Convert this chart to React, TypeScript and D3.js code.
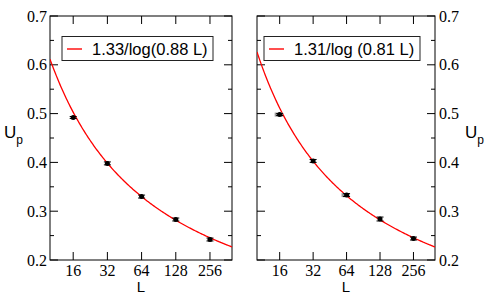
import React from "react";
import * as d3 from "d3";

// system sizes L and measured U_p
const sizes = [16, 32, 64, 128, 256];
const leftValues = [0.492, 0.398, 0.33, 0.283, 0.242];
const leftErrors = [0.002, 0.003, 0.003, 0.003, 0.003];
const rightValues = [0.498, 0.403, 0.333, 0.284, 0.244];
const rightErrors = [0.002, 0.003, 0.003, 0.004, 0.003];
// grey markers hiding under some right points
const rightGreySizes = [16, 64];
const rightGreyValues = [0.498, 0.333];

// fit parameters: a / log(b L)
const leftFit = [1.33, 0.88];
const rightFit = [1.31, 0.81];
const leftLegend = "1.33/log(0.88 L)";
const rightLegend = "1.31/log (0.81 L)";

const yTicks = [0.2, 0.3, 0.4, 0.5, 0.6, 0.7];
const yMinor = [0.25, 0.35, 0.45, 0.55, 0.65];

const W = 490;
const H = 300;
const top = 16;
const bottom = 260;
const serif = { fontFamily: "'Liberation Serif', 'Times New Roman', serif" };
const sans = { fontFamily: "'Liberation Sans', Arial, Helvetica, sans-serif" };

function Panel({ x0, x1, values, errors, fit, legend, side, greyL, greyU, id }) {
  const x = d3.scaleLog().domain([10, 400]).range([x0, x1]);
  const y = d3.scaleLinear().domain([0.2, 0.7]).range([bottom, top]);
  const curveL = d3.range(0, 201).map((i) => 10 * Math.pow(40, i / 200));
  const line = d3
    .line()
    .x((d) => x(d))
    .y((d) => y(fit[0] / Math.log(fit[1] * d)));
  const mid = (x0 + x1) / 2;
  const lx = side === "left" ? x0 + 12 : x0 + 7;
  const lw = side === "left" ? 151 : 156;

  return (
    <g>
      <defs>
        <clipPath id={id}>
          <rect x={x0} y={top} width={x1 - x0} height={bottom - top} />
        </clipPath>
      </defs>
      {/* frame */}
      <rect x={x0} y={top} width={x1 - x0} height={bottom - top} fill="none" stroke="#000" strokeWidth={1} />
      {yTicks.map((t) => (
        <g key={"y" + t}>
          <line x1={x0} x2={x0 + 8} y1={y(t)} y2={y(t)} stroke="#000" />
          <line x1={x1 - 8} x2={x1} y1={y(t)} y2={y(t)} stroke="#000" />
          <text
            x={side === "left" ? x0 - 3 : x1 + 4}
            y={y(t)}
            dy="0.35em"
            textAnchor={side === "left" ? "end" : "start"}
            fontSize={16}
            style={serif}
          >
            {t.toFixed(1)}
          </text>
        </g>
      ))}
      {yMinor.map((t) => (
        <g key={"m" + t}>
          <line x1={x0} x2={x0 + 4} y1={y(t)} y2={y(t)} stroke="#000" />
          <line x1={x1 - 4} x2={x1} y1={y(t)} y2={y(t)} stroke="#000" />
        </g>
      ))}
      {sizes.map((s) => (
        <g key={"x" + s}>
          <line x1={x(s)} x2={x(s)} y1={bottom} y2={bottom - 8} stroke="#000" />
          <line x1={x(s)} x2={x(s)} y1={top} y2={top + 8} stroke="#000" />
          <text x={x(s)} y={276} textAnchor="middle" fontSize={16} style={serif}>
            {s}
          </text>
        </g>
      ))}
      {/* fit */}
      <path d={line(curveL)} fill="none" stroke="#ff0000" strokeWidth={1.3} clipPath={`url(#${id})`} />
      {/* grey markers */}
      {greyL.map((s, i) => (
        <rect key={"g" + s} x={x(s) - 5} y={y(greyU[i]) - 2} width={8} height={4} fill="#999" />
      ))}
      {/* data */}
      {sizes.map((s, i) => (
        <g key={"p" + s}>
          <line x1={x(s)} x2={x(s)} y1={y(values[i] - errors[i])} y2={y(values[i] + errors[i])} stroke="#000" />
          <line x1={x(s) - 3.5} x2={x(s) + 3.5} y1={y(values[i] - errors[i])} y2={y(values[i] - errors[i])} stroke="#000" />
          <line x1={x(s) - 3.5} x2={x(s) + 3.5} y1={y(values[i] + errors[i])} y2={y(values[i] + errors[i])} stroke="#000" />
          <circle cx={x(s)} cy={y(values[i])} r={2.5} fill="#000" />
        </g>
      ))}
      {/* legend */}
      <rect x={lx} y={36.5} width={lw} height={24} fill="#fff" stroke="#222" />
      <line x1={lx + 5} x2={lx + 20} y1={49} y2={49} stroke="#ff3b3b" strokeWidth={1.8} />
      <text x={lx + 30} y={55} fontSize={16.5} style={sans}>
        {legend}
      </text>
      {/* axis labels */}
      <text x={mid} y={292} textAnchor="middle" fontSize={15} style={sans}>
        L
      </text>
      <text x={side === "left" ? 4 : 465} y={138} fontSize={17} style={sans}>
        U
        <tspan dy={6} fontSize={12}>
          p
        </tspan>
      </text>
    </g>
  );
}

export default function App() {
  return (
    <svg width={W} height={H} style={{ position: "absolute", left: 0, top: 0, background: "#fff" }}>
      <rect width={W} height={H} fill="#fff" />
      <Panel
        id="clipL"
        x0={50}
        x1={232}
        values={leftValues}
        errors={leftErrors}
        fit={leftFit}
        legend={leftLegend}
        side="left"
        greyL={[]}
        greyU={[]}
      />
      <Panel
        id="clipR"
        x0={257}
        x1={435}
        values={rightValues}
        errors={rightErrors}
        fit={rightFit}
        legend={rightLegend}
        side="right"
        greyL={rightGreySizes}
        greyU={rightGreyValues}
      />
    </svg>
  );
}
